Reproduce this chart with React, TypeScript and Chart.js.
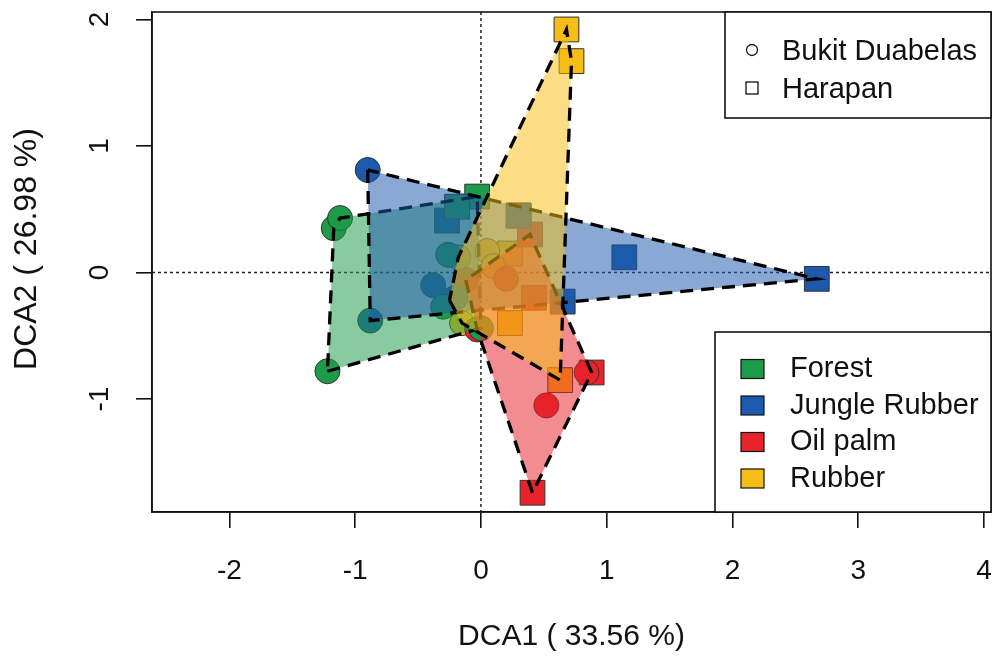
import React, { useEffect, useRef } from "react";
import { Chart, registerables } from "chart.js";
Chart.register(...registerables);

// ---- data (DCA site scores) ----
const groups = ["Forest", "Jungle Rubber", "Oil palm", "Rubber"];
const sites = ["Bukit Duabelas", "Harapan"];
const groupColors = ["#1c9c4a", "#1d5aad", "#e8232a", "#f6bd16"];

const forestBD = [[-1.22, -0.78], [-1.17, 0.35], [-1.12, 0.43], [-0.30, -0.27], [-0.26, 0.14], [0.0, -0.44]];
const forestH = [[-0.03, 0.6], [-0.19, 0.52]];
const jungleBD = [[-0.9, 0.81], [-0.88, -0.38], [-0.38, -0.1], [-0.2, -0.2]];
const jungleH = [[2.67, -0.05], [1.14, 0.12], [0.65, -0.23], [-0.27, 0.41], [0.3, 0.45]];
const oilBD = [[0.52, -1.05], [0.84, -0.79], [-0.12, -0.06], [0.2, -0.05], [-0.03, -0.45]];
const oilH = [[0.41, -1.74], [0.88, -0.79], [0.39, 0.3], [0.42, -0.2]];
const rubberBD = [[-0.18, 0.12], [-0.25, -0.22], [-0.15, -0.4], [0.05, 0.17], [0.1, 0.05]];
const rubberH = [[0.68, 1.92], [0.72, 1.67], [0.63, -0.85], [0.23, -0.4], [0.23, 0.15], [0.3, 0.45]];

const groupBD = [forestBD, jungleBD, oilBD, rubberBD];
const groupH = [forestH, jungleH, oilH, rubberH];

const xTicks = [-2, -1, 0, 1, 2, 3, 4];
const yTicks = [-1, 0, 1, 2];
const xTitle = "DCA1 ( 33.56 %)";
const yTitle = "DCA2 ( 26.98 %)";
const xMin = -2.615, xMax = 4.055;
const yMin = -1.892, yMax = 2.058;

const FONT = "'Liberation Sans', Arial, sans-serif";
const FS = 28;

function rgba(hex: string, a: number) {
  const n = parseInt(hex.slice(1), 16);
  return `rgba(${(n >> 16) & 255},${(n >> 8) & 255},${n & 255},${a})`;
}

function convexHull(pts: number[][]) {
  const p = pts.slice().sort((a, b) => a[0] - b[0] || a[1] - b[1]);
  const cross = (o: number[], a: number[], b: number[]) =>
    (a[0] - o[0]) * (b[1] - o[1]) - (a[1] - o[1]) * (b[0] - o[0]);
  const lower: number[][] = [];
  for (const q of p) {
    while (lower.length >= 2 && cross(lower[lower.length - 2], lower[lower.length - 1], q) <= 0) lower.pop();
    lower.push(q);
  }
  const upper: number[][] = [];
  for (let i = p.length - 1; i >= 0; i--) {
    const q = p[i];
    while (upper.length >= 2 && cross(upper[upper.length - 2], upper[upper.length - 1], q) <= 0) upper.pop();
    upper.push(q);
  }
  upper.pop();
  lower.pop();
  return lower.concat(upper);
}

const toXY = (arr: number[][]) => arr.map(([x, y]) => ({ x, y }));

const rFrame = {
  id: "rFrame",
  beforeDatasetsDraw(chart: any) {
    const { ctx, chartArea: a, scales } = chart;
    const x0 = scales.x.getPixelForValue(0);
    const y0 = scales.y.getPixelForValue(0);
    ctx.save();
    ctx.strokeStyle = "#222";
    ctx.lineWidth = 1.5;
    ctx.setLineDash([3, 3]);
    ctx.beginPath();
    ctx.moveTo(a.left, y0);
    ctx.lineTo(a.right, y0);
    ctx.moveTo(x0, a.top);
    ctx.lineTo(x0, a.bottom);
    ctx.stroke();
    ctx.restore();
  },
  afterDraw(chart: any) {
    const { ctx, chartArea: a, scales } = chart;
    ctx.save();
    // box
    ctx.strokeStyle = "#111";
    ctx.lineWidth = 1.6;
    ctx.strokeRect(a.left, a.top, a.right - a.left, a.bottom - a.top);

    ctx.fillStyle = "#111";
    ctx.font = `${FS}px ${FONT}`;
    // y tick labels (rotated, R style)
    for (const v of yTicks) {
      const py = scales.y.getPixelForValue(v);
      ctx.save();
      ctx.translate(a.left - 52, py);
      ctx.rotate(-Math.PI / 2);
      ctx.textAlign = "center";
      ctx.textBaseline = "middle";
      ctx.fillText(String(v), 0, 0);
      ctx.restore();
    }
    // axis titles
    ctx.textAlign = "center";
    ctx.textBaseline = "middle";
    ctx.font = `30px ${FONT}`;
    ctx.fillText(xTitle, (a.left + a.right) / 2, a.bottom + 125);
    ctx.save();
    ctx.font = `32px ${FONT}`;
    ctx.translate(a.left - 125, (a.top + a.bottom) / 2 - 13);
    ctx.rotate(-Math.PI / 2);
    ctx.fillText(yTitle, 0, 0);
    ctx.restore();

    ctx.font = `29px ${FONT}`;
    // legend 1: sites
    const l1x = 725, l1y = a.top, l1w = a.right - 725, l1h = 106;
    ctx.fillStyle = "#fff";
    ctx.fillRect(l1x, l1y, l1w, l1h);
    ctx.strokeStyle = "#111";
    ctx.lineWidth = 1.6;
    ctx.strokeRect(l1x, l1y, l1w, l1h);
    ctx.lineWidth = 1.3;
    ctx.beginPath();
    ctx.arc(752, l1y + 38, 5.5, 0, Math.PI * 2);
    ctx.stroke();
    ctx.strokeRect(746, l1y + 70, 12, 12);
    ctx.fillStyle = "#111";
    ctx.textAlign = "left";
    ctx.textBaseline = "middle";
    ctx.fillText(sites[0], 782, l1y + 40);
    ctx.fillText(sites[1], 782, l1y + 78);

    // legend 2: land use
    const l2x = 715, l2y = 332, l2w = a.right - 715, l2h = a.bottom - 332;
    ctx.fillStyle = "#fff";
    ctx.fillRect(l2x, l2y, l2w, l2h);
    ctx.lineWidth = 1.6;
    ctx.strokeRect(l2x, l2y, l2w, l2h);
    groups.forEach((g, i) => {
      const cy = 369 + i * 36.5;
      ctx.fillStyle = groupColors[i];
      ctx.fillRect(741, cy - 9.5, 23, 19);
      ctx.lineWidth = 1.2;
      ctx.strokeStyle = "#111";
      ctx.strokeRect(741, cy - 9.5, 23, 19);
      ctx.fillStyle = "#111";
      ctx.fillText(g, 790, cy);
    });
    ctx.restore();
  },
};

export default function App() {
  const ref = useRef<HTMLCanvasElement>(null);
  useEffect(() => {
    const canvas = ref.current;
    if (!canvas) return;
    const datasets: any[] = [];
    groups.forEach((g, i) => {
      const hull = convexHull([...groupBD[i], ...groupH[i]]);
      datasets.push({
        type: "line",
        label: g + " hull",
        data: toXY([...hull, hull[0]]),
        borderColor: "#000",
        borderWidth: 3.3,
        borderDash: [13, 8],
        backgroundColor: rgba(groupColors[i], 0.52),
        fill: "shape",
        pointRadius: 0,
        tension: 0,
        order: 4 - i,
      });
    });
    groups.forEach((g, i) => {
      [groupBD[i], groupH[i]].forEach((arr, s) => {
        datasets.push({
          type: "scatter",
          label: g + " " + sites[s],
          data: toXY(arr),
          pointStyle: s === 0 ? "circle" : "rect",
          pointRadius: s === 0 ? 12.5 : 17.5,
          backgroundColor: groupColors[i],
          borderColor: "#333",
          borderWidth: 1,
          order: 10,
        });
      });
    });

    const chart = new Chart(canvas, {
      type: "scatter",
      data: { datasets },
      plugins: [rFrame],
      options: {
        responsive: false,
        animation: false,
        events: [],
        layout: { autoPadding: false, padding: { left: 0, right: 4, top: 12, bottom: 0 } },
        plugins: { legend: { display: false }, tooltip: { enabled: false } },
        scales: {
          x: {
            type: "linear",
            min: xMin,
            max: xMax,
            afterBuildTicks: (s: any) => { s.ticks = xTicks.map((v) => ({ value: v })); },
            afterFit: (s: any) => { s.height = 150; s.paddingLeft = 0; s.paddingRight = 0; },
            grid: { drawOnChartArea: false, drawTicks: true, tickLength: 16, color: "#111", lineWidth: 1.6 },
            border: { display: true, color: "#111", width: 1.6 },
            ticks: { color: "#111", font: { family: FONT, size: FS }, padding: 26, maxRotation: 0, autoSkip: false, callback: (v: any) => String(v) },
          },
          y: {
            type: "linear",
            min: yMin,
            max: yMax,
            afterBuildTicks: (s: any) => { s.ticks = yTicks.map((v) => ({ value: v })); },
            afterFit: (s: any) => { s.width = 152; s.paddingTop = 0; s.paddingBottom = 0; },
            grid: { drawOnChartArea: false, drawTicks: true, tickLength: 16, color: "#111", lineWidth: 1.6 },
            border: { display: true, color: "#111", width: 1.6 },
            ticks: { display: false },
          },
        },
      },
    });
    return () => chart.destroy();
  }, []);
  return (
    <div style={{ position: "fixed", left: 0, top: 0, width: 995, height: 662, background: "#fff" }}>
      <canvas ref={ref} width={995} height={662} style={{ display: "block" }} />
    </div>
  );
}
